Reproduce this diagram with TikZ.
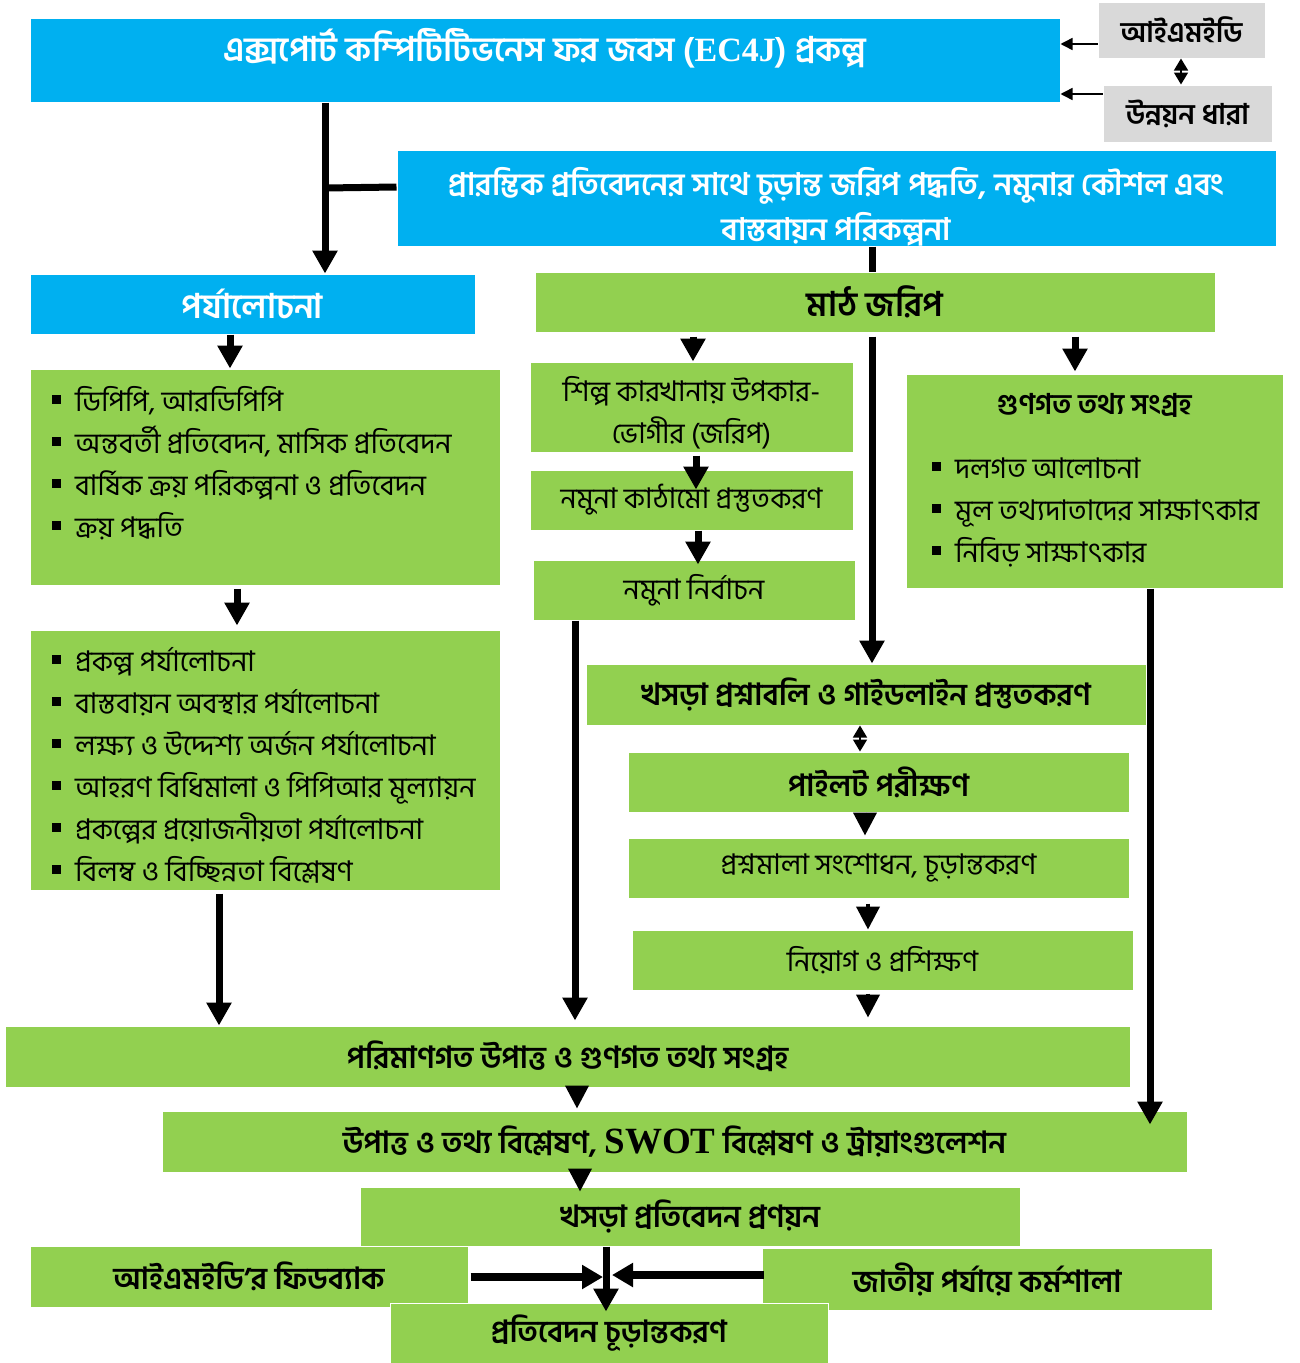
\documentclass[tikz,border=0pt]{standalone}
\usepackage{fontspec}
\usetikzlibrary{arrows.meta,calc}
\newfontfamily\bn[Script=Bengali]{Hind Siliguri}
\newfontfamily\lsr{Liberation Serif}
\definecolor{cblue}{HTML}{00B0F0}
\definecolor{cgreen}{HTML}{92D050}
\definecolor{cgray}{HTML}{D9D9D9}
\newcommand\bul{\rule[7pt]{9pt}{9pt}\hspace{14pt}}
\newcommand\fl[1]{\rule{0pt}{#1pt}}
\tikzset{
  x=1pt, y=-1pt,
  sz/.style 2 args={minimum width=#1pt, minimum height=#2pt},
  box/.style={draw=white, line width=1pt, inner sep=0pt, align=center,
    font=\bn\fontsize{28.5}{42}\selectfont},
  bluebox/.style={box, fill=cblue, text=white, font=\bn\bfseries\fontsize{31}{45}\selectfont},
  greenbox/.style={box, fill=cgreen},
  boldgreen/.style={greenbox, font=\bn\bfseries\fontsize{30.5}{42}\selectfont},
  graybox/.style={box, fill=cgray, font=\bn\bfseries\fontsize{28.5}{32}\selectfont},
  arr/.style={line width=7pt, -{Triangle[width=24pt,length=23pt]}},
  line/.style={line width=7pt},
  tri/.style={line width=4pt, -{Triangle[width=23pt,length=23pt]}},
  dbl/.style={line width=1.5pt, {Triangle[width=14pt,length=12pt]}-{Triangle[width=14pt,length=12pt]}},
  thinarr/.style={line width=1.5pt, -{Triangle[width=12pt,length=12pt]}},
}
\begin{document}
\begin{tikzpicture}
\useasboundingbox (0,0) rectangle (1299,1363);
% top
\node[bluebox, sz={1030}{84}, text height=26pt, text depth=24pt, font=\bn\bfseries\fontsize{34}{40}\selectfont] (top) at (545,60)
  {এক্সপোর্ট কম্পিটিটিভনেস ফর জবস ({\lsr EC4J}) প্রকল্প};
\node[graybox, sz={167}{56}] (imed) at (1181.5,30) {আইএমইডি};
\node[graybox, sz={169}{57}] (udh) at (1187.5,113.5) {উন্নয়ন ধারা};
\node[bluebox, sz={879}{96}] (inc) at (836.5,198)
  {\parbox[c][96pt][t]{879pt}{\centering
   \fl{45}প্রারম্ভিক প্রতিবেদনের সাথে চুড়ান্ত জরিপ পদ্ধতি, নমুনার কৌশল এবং\\
   বাস্তবায়ন পরিকল্পনা}};
\node[bluebox, sz={445}{60}, font=\bn\bfseries\fontsize{34}{40}\selectfont] (rev) at (252.5,304) {পর্যালোচনা};
\node[boldgreen, sz={680}{60}, font=\bn\bfseries\fontsize{34}{40}\selectfont] (field) at (875,302) {মাঠ জরিপ};
% lists
\node[greenbox, sz={470}{216}] (l1) at (265,477)
  {\parbox[c][216pt][t]{450pt}{\raggedright
   \fl{42}\hspace*{12pt}\bul ডিপিপি, আরডিপিপি\\
   \hspace*{12pt}\bul অন্তবর্তী প্রতিবেদন, মাসিক প্রতিবেদন\\
   \hspace*{12pt}\bul বার্ষিক ক্রয় পরিকল্পনা ও প্রতিবেদন\\
   \hspace*{12pt}\bul ক্রয় পদ্ধতি}};
\node[greenbox, sz={470}{260}] (l2) at (265,760)
  {\parbox[c][260pt][t]{450pt}{\raggedright
   \fl{41}\hspace*{12pt}\bul প্রকল্প পর্যালোচনা\\
   \hspace*{12pt}\bul বাস্তবায়ন অবস্থার পর্যালোচনা\\
   \hspace*{12pt}\bul লক্ষ্য ও উদ্দেশ্য অর্জন পর্যালোচনা\\
   \hspace*{12pt}\bul আহরণ বিধিমালা ও পিপিআর মূল্যায়ন\\
   \hspace*{12pt}\bul প্রকল্পের প্রয়োজনীয়তা পর্যালোচনা\\
   \hspace*{12pt}\bul বিলম্ব ও বিচ্ছিন্নতা বিশ্লেষণ}};
% field column
\node[greenbox, sz={323}{90}] (b9) at (691.5,407)
  {\parbox[c][90pt][t]{323pt}{\centering
   \fl{39}শিল্প কারখানায় উপকার-\\ভোগীর (জরিপ)}};
\node[greenbox, sz={323}{60}] (b10) at (691.5,500) {নমুনা কাঠামো প্রস্তুতকরণ};
\node[greenbox, sz={322}{60}] (b11) at (694,590) {নমুনা নির্বাচন};
\node[greenbox, sz={377}{214}] (qual) at (1094.5,481)
  {\parbox[c][214pt][t]{357pt}{\raggedright
   \makebox[357pt]{\fl{40}\bfseries গুণগত তথ্য সংগ্রহ}\\[22pt]
   \hspace*{16pt}\bul দলগত আলোচনা\\
   \hspace*{16pt}\bul মূল তথ্যদাতাদের সাক্ষাৎকার\\
   \hspace*{16pt}\bul নিবিড় সাক্ষাৎকার}};
\node[boldgreen, sz={560}{61}] (b13) at (866,694.5) {খসড়া প্রশ্নাবলি ও গাইডলাইন প্রস্তুতকরণ};
\node[boldgreen, sz={501}{60}] (b14) at (878.5,782) {পাইলট পরীক্ষণ};
\node[greenbox, sz={501}{60}] (b15) at (878.5,868) {প্রশ্নমালা সংশোধন, চূড়ান্তকরণ};
\node[greenbox, sz={501}{60}] (b16) at (882.5,960) {নিয়োগ ও প্রশিক্ষণ};
% bottom
\node[boldgreen, sz={1125}{61}] (b17) at (567.5,1056.5) {পরিমাণগত উপাত্ত ও গুণগত তথ্য সংগ্রহ};
\node[boldgreen, sz={1025}{61}] (b18) at (674.5,1141.5)
  {উপাত্ত ও তথ্য বিশ্লেষণ, {\lsr\fontsize{37}{40}\selectfont SWOT} বিশ্লেষণ ও ট্রায়াংগুলেশন};
\node[boldgreen, sz={660}{59}] (b19) at (690,1216.5) {খসড়া প্রতিবেদন প্রণয়ন};
\node[boldgreen, sz={438}{61}] (b20) at (249,1276.5) {আইএমইডি’র ফিডব্যাক};
\node[boldgreen, sz={450}{62}] (b21) at (987,1279) {জাতীয় পর্যায়ে কর্মশালা};
\node[boldgreen, sz={438}{60}] (b22) at (609,1333) {প্রতিবেদন চূড়ান্তকরণ};
% connectors
\draw[thinarr] (imed.west |- 0,44) -- (top.east |- 0,44);
\draw[thinarr] (udh.west |- 0,94) -- (top.east |- 0,94);
\draw[dbl] (imed.south -| 1181,0) -- (udh.north -| 1181,0);
\draw[arr] (top.south -| 325,0) -- (rev.north -| 325,0);
\draw[line] (inc.west |- 0,187) -- (325,188) coordinate (j1);
\draw[line] (inc.south -| 872,0) -- (field.north -| 872,0);
\draw[arr] (rev.south -| 230,0) -- (l1.north -| 230,0);
\draw[arr] ($(l1.south -| 237,0)+(0,3)$) -- ($(l2.north -| 237,0)+(0,-4)$);
\draw[arr] ($(l2.south -| 219,0)+(0,3)$) -- (b17.north -| 219,0);
\draw[arr] ($(field.south -| 693,0)+(0,4)$) -- (b9.north -| 693,0);
\draw[arr] ($(b9.south -| 696,0)+(0,3)$) -- ($(b10.north -| 696,0)+(0,20)$);
\draw[arr] (b10.south -| 698,0) -- ($(b11.north -| 698,0)+(0,5)$);
\draw[arr] (b11.south -| 575,0) -- ($(b17.north -| 575,0)+(0,-5)$);
\draw[arr] ($(field.south -| 872,0)+(0,4)$) -- (b13.north -| 872,0);
\draw[arr] ($(field.south -| 1075,0)+(0,4)$) -- ($(qual.north -| 1075,0)+(0,-2)$);
\draw[arr] (qual.south -| 1150,0) -- ($(b18.north -| 1150,0)+(0,14)$);
\draw[dbl] (b13.south -| 860,0) -- (b14.north -| 860,0);
\draw[tri] (b14.south -| 865,0) -- ($(b15.north -| 865,0)+(0,-2)$);
\draw[tri] ($(b15.south -| 868,0)+(0,5)$) -- (b16.north -| 868,0);
\draw[tri] ($(b16.south -| 868,0)+(0,3)$) -- ($(b17.north -| 868,0)+(0,-8)$);
\draw[tri] (b17.south -| 577,0) -- ($(b18.north -| 577,0)+(0,-2)$);
\draw[tri] (b18.south -| 580,0) -- ($(b19.north -| 580,0)+(0,5)$);
\draw[arr] (b19.south -| 606,0) -- ($(b22.north -| 606,0)+(0,9)$);
\draw[line width=8pt, -{Triangle[width=23pt,length=21pt]}] ($(b20.east |- 0,1277)+(2,0)$) -- (603,1277);
\draw[line width=8pt, -{Triangle[width=23pt,length=21pt]}] ($(b21.west |- 0,1275)+(2,0)$) -- (612,1275);
\end{tikzpicture}
\end{document}
